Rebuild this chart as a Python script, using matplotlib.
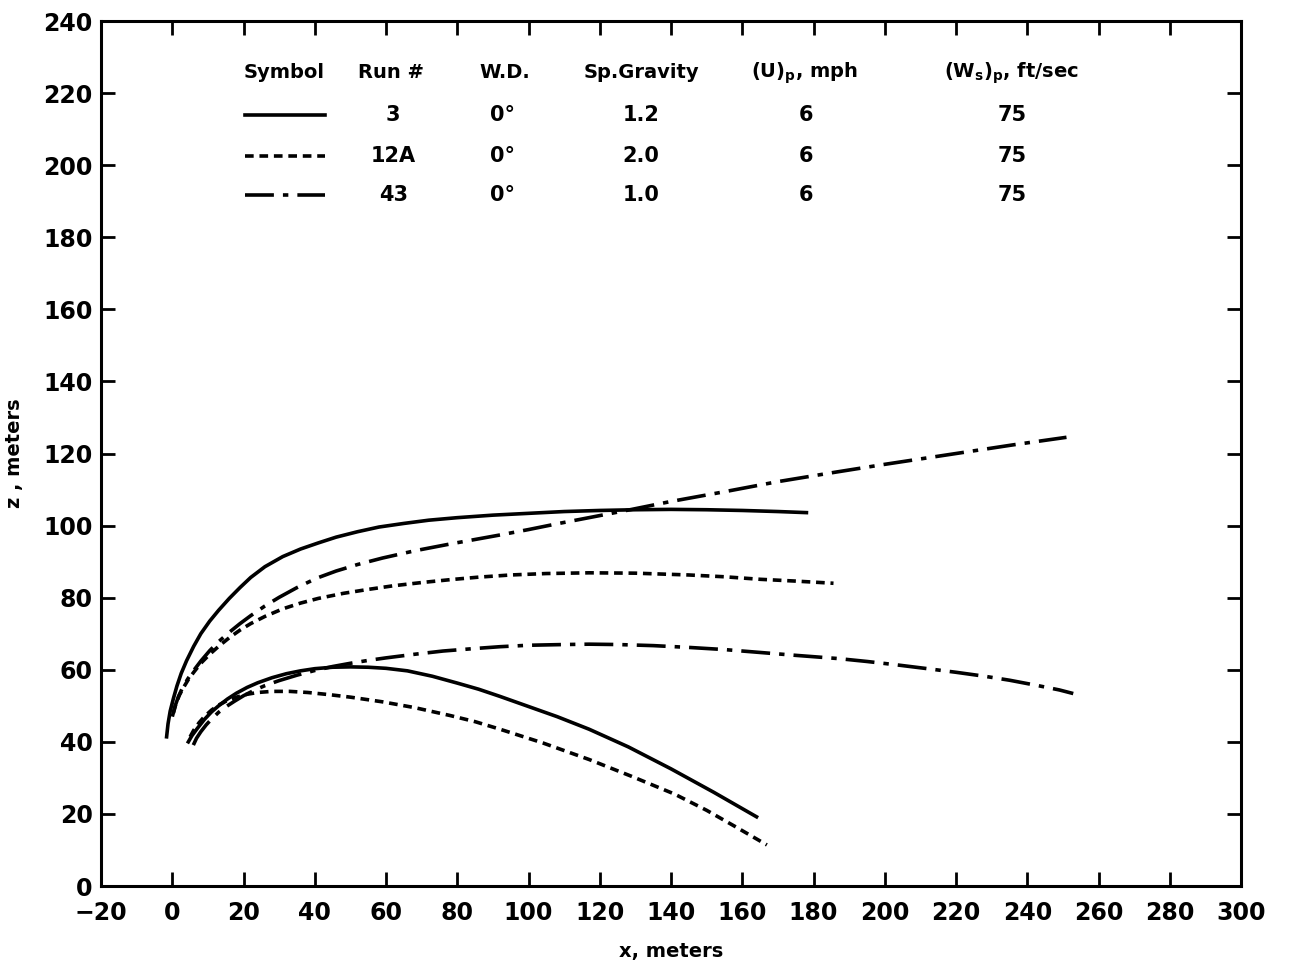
#!/usr/bin/env python3
"""Plume trajectories z vs x for three runs (upper and lower branches)."""
import matplotlib
matplotlib.use("Agg")
import matplotlib.pyplot as plt

# Run 3 (solid)
run3_upper_x = [-1.6, -1.2, -0.6, 0.3, 1.3, 2.5, 4, 6, 8, 10.5, 13, 16, 19, 22,
                26, 31, 36, 41, 46, 52, 58, 65, 72, 80, 90, 100, 110, 120, 130,
                140, 150, 160, 170, 178]
run3_upper_z = [41.4, 45, 48.5, 52, 55.5, 59, 62.5, 66.5, 70, 73.5, 76.5, 79.8,
                82.8, 85.6, 88.6, 91.4, 93.5, 95.2, 96.8, 98.3, 99.6, 100.6,
                101.5, 102.2, 102.9, 103.4, 103.9, 104.2, 104.4, 104.5, 104.4,
                104.2, 103.9, 103.6]
run3_lower_x = [4.5, 5.5, 7, 9, 11, 13, 15.5, 18, 21, 24, 28, 32, 36, 40, 45,
                50, 55, 60, 66, 73, 80, 86, 92, 100, 108, 117, 128, 140, 152, 164]
run3_lower_z = [40, 41.7, 43.7, 46.2, 48.3, 50, 51.9, 53.5, 55.1, 56.4, 57.8,
                58.9, 59.7, 60.3, 60.7, 60.8, 60.7, 60.4, 59.7, 58.2, 56.3, 54.6,
                52.6, 49.8, 47, 43.5, 38.6, 32.5, 26, 19.2]

# Run 12A (dashed)
run12a_upper_x = [0.3, 1, 2, 3.1, 4.5, 6, 8, 10.5, 13, 16, 19, 22, 26, 31, 36,
                  41, 48, 55, 62, 70, 78, 86, 95, 105, 117, 130, 145, 155, 165,
                  175, 185.6]
run12a_upper_z = [48, 50.5, 53, 55, 57.3, 59.3, 61.8, 64.3, 66.5, 68.9, 71,
                  72.8, 74.8, 76.9, 78.5, 79.8, 81.2, 82.3, 83.3, 84.2, 85,
                  85.7, 86.3, 86.7, 86.9, 86.8, 86.3, 85.8, 85.1, 84.6, 84.0]
run12a_lower_x = [5, 6, 7.5, 9, 11, 13, 15.5, 18, 21, 24, 28, 33, 38, 44, 50,
                  59, 68, 78, 85, 92, 104, 117, 129, 141, 150, 158, 166.9]
run12a_lower_z = [41.4, 43.2, 45.3, 47, 48.8, 50.2, 51.5, 52.4, 53.2, 53.7, 54,
                  54, 53.7, 53.1, 52.4, 51.1, 49.5, 47.3, 45.6, 43.5, 39.7,
                  35.1, 30.4, 25.5, 21, 16.5, 11.4]

# Run 43 (dash-dot)
run43_upper_x = [0, 0.8, 1.7, 3, 4.5, 6, 8, 10.5, 13, 16, 19, 22, 26, 30, 35,
                 40.5, 46, 52, 59, 68, 78, 92, 100, 108, 118, 129, 140, 155,
                 170, 186, 200, 222, 236, 251]
run43_upper_z = [47, 50, 52.5, 55.3, 57.7, 59.8, 62.4, 65.3, 67.8, 70.4, 72.8,
                 75, 77.7, 80.1, 82.8, 85.4, 87.4, 89.2, 91, 93, 94.9, 97.4,
                 98.9, 100.5, 102.4, 104.5, 106.7, 109.4, 112.2, 114.8, 117,
                 120.3, 122.4, 124.5]
run43_lower_x = [5.9, 6.8, 8, 9.5, 11, 13, 15, 17.5, 20, 23, 26, 30, 35, 40,
                 45, 50, 55, 60, 68, 76, 85, 92, 100, 110, 117, 125, 135, 145,
                 155, 165, 175, 187, 195, 203, 212, 220, 228, 235, 243, 249,
                 252.9]
run43_lower_z = [39.1, 41, 42.8, 44.7, 46.3, 48.2, 49.7, 51.3, 52.8, 54.3, 55.6,
                 57, 58.5, 59.8, 60.9, 61.8, 62.6, 63.3, 64.3, 65.2, 65.9, 66.4,
                 66.8, 67, 67.1, 67, 66.7, 66.2, 65.6, 64.8, 64, 63.1, 62.3,
                 61.4, 60.3, 59.3, 58.2, 57.1, 55.6, 54.4, 53.4]

# Table in the upper part of the plot
headers = ["Symbol", "Run #", "W.D.", "Sp.Gravity",
           r"(U)$_\mathbf{p}$, mph", r"(W$_\mathbf{s}$)$_\mathbf{p}$, ft/sec"]
run_ids = ["3", "12A", "43"]
wind_dirs = ["0°", "0°", "0°"]
sp_gravity = ["1.2", "2.0", "1.0"]
u_mph = ["6", "6", "6"]
ws_ftsec = ["75", "75", "75"]

DASHED = (0, (2.4, 1.6))
DASHDOT = (0, (8, 2.5, 1.5, 2.5))
styles = ["-", DASHED, DASHDOT]

plt.rcParams["font.family"] = ["DejaVu Sans"]
plt.rcParams["font.weight"] = "bold"
plt.rcParams["mathtext.default"] = "bf"

fig = plt.figure(figsize=(12.89, 9.64), dpi=100)
ax = fig.add_axes([0.0784, 0.0809, 0.8844, 0.8973])

lw = 2.6
ax.plot(run3_upper_x, run3_upper_z, color="black", lw=lw, ls="-")
ax.plot(run3_lower_x, run3_lower_z, color="black", lw=lw, ls="-")
ax.plot(run12a_upper_x, run12a_upper_z, color="black", lw=lw, ls=DASHED)
ax.plot(run12a_lower_x, run12a_lower_z, color="black", lw=lw, ls=DASHED)
ax.plot(run43_upper_x, run43_upper_z, color="black", lw=lw, ls=DASHDOT)
ax.plot(run43_lower_x, run43_lower_z, color="black", lw=lw, ls=DASHDOT)

# Set axis limit and ticks
ax.set_xlim(-20, 300)
ax.set_ylim(0, 240)
ax.set_xticks(range(-20, 301, 20))
ax.set_yticks(range(0, 241, 20))
ax.set_xticklabels(["\u221220" if v < 0 else str(v) for v in range(-20, 301, 20)])
ax.tick_params(direction="in", length=10, width=2, labelsize=17,
               top=True, right=True)
ax.tick_params(axis="x", pad=11)
ax.tick_params(axis="y", pad=6)
for s in ax.spines.values():
    s.set_linewidth(2.2)

# Set labels name
ax.set_xlabel("x, meters", fontsize=14, fontweight="bold", labelpad=12)
ax.set_ylabel("z , meters", fontsize=14, fontweight="bold", labelpad=14)

# Table
col_x = [31.4, 61.5, 93.4, 131.6, 177.6, 235.7]
val_x = [62, 92.6, 131.6, 177.9, 235.7]
row_y = [213.9, 202.6, 191.7]
fs = 14
for cx, h in zip(col_x, headers):
    ax.text(cx, 225.6, h, ha="center", va="center", fontsize=fs)
for i in range(3):
    ax.plot([20.4, 42.9], [row_y[i], row_y[i]], color="black", lw=lw,
            ls=styles[i])
    vals = [run_ids[i], wind_dirs[i], sp_gravity[i], u_mph[i], ws_ftsec[i]]
    for cx, v in zip(val_x, vals):
        ax.text(cx, row_y[i], v, ha="center", va="center", fontsize=fs + 1)

fig.savefig("out.png", dpi=100)
